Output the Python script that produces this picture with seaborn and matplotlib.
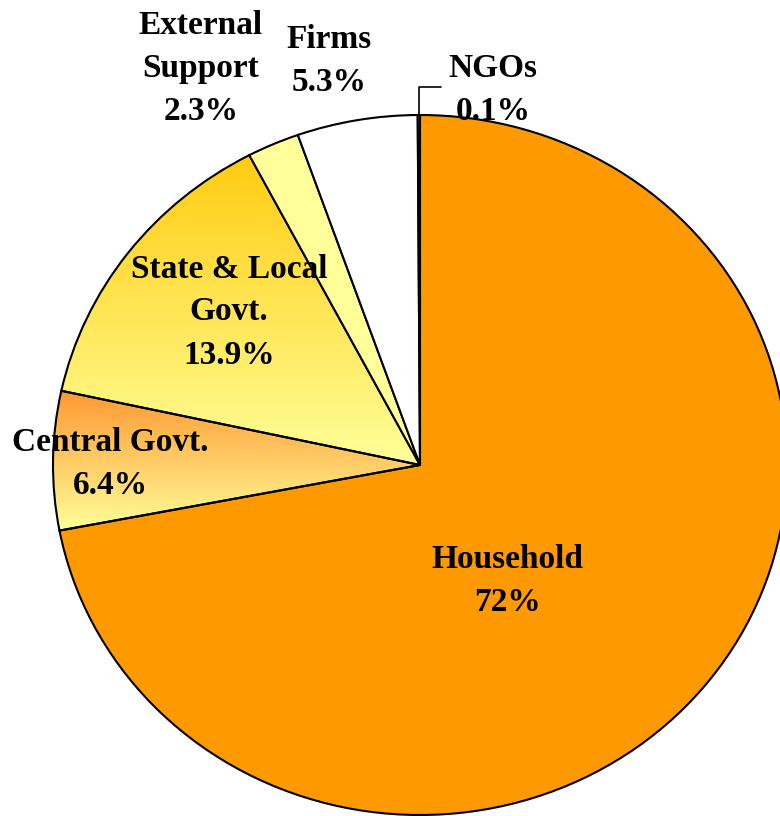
import numpy as np
import matplotlib
matplotlib.use("Agg")
import matplotlib.pyplot as plt
from matplotlib.colors import to_rgb
import seaborn as sns

# Health expenditure shares by source of funding (%)
sources = ["Household", "Central Govt.", "State & Local\nGovt.",
           "External\nSupport", "Firms", "NGOs"]
shares = [72, 6.4, 13.9, 2.3, 5.3, 0.1]
share_text = ["72%", "6.4%", "13.9%", "2.3%", "5.3%", "0.1%"]

sns.set_theme(style="white")
plt.rcParams["font.family"] = ["Liberation Serif", "DejaVu Serif"]

solid = sns.color_palette(["#FF9900", "#FF9933", "#FFCC00",
                           "#FFFF99", "#FFFFFF", "#FF9900"])
# vertical gradients (top colour, bottom colour) for the government wedges
gradients = {1: ("#FF9933", "#FFFF99"), 2: ("#FFCC11", "#FFFF99")}

W, H = 780, 816
fig = plt.figure(figsize=(W / 100, H / 100), dpi=100)
ax = fig.add_axes([0, 0, 1, 1])

# pixel geometry of the (slightly elliptical) pie
cx, cy, rx, ry = 420, 465, 367, 350

wedges, _ = ax.pie(shares, colors=solid, startangle=90, counterclock=False,
                   radius=1, center=(0, 0),
                   wedgeprops=dict(edgecolor="black", linewidth=1.5))

for i, (c_top, c_bot) in gradients.items():
    w = wedges[i]
    w.set_facecolor("none")
    ext = w.get_path().get_extents()
    t = np.linspace(0, 1, 256)[:, None]
    top, bot = np.array(to_rgb(c_top)), np.array(to_rgb(c_bot))
    grad = (top * (1 - t) + bot * t)[:, None, :]
    im = ax.imshow(grad, extent=[ext.x0, ext.x1, ext.y0, ext.y1],
                   origin="upper", aspect="auto", zorder=0,
                   interpolation="bilinear")
    im.set_clip_path(w)

# leader line for the tiny NGO slice
ngo = wedges[5]
mid = np.deg2rad((ngo.theta1 + ngo.theta2) / 2)
px, py = np.cos(mid), np.sin(mid)
ax.plot([px, px, px + 0.06], [py, 1.08, 1.08], color="black", lw=1.2,
        zorder=3, clip_on=False)

ax.set_aspect("auto")
ax.set_xlim(-cx / rx, (W - cx) / rx)
ax.set_ylim(-(H - cy) / ry, cy / ry)
ax.axis("off")

# label centres in figure pixels
label_pos = [(507, 581), (110, 464), (229, 312), (201, 68), (329, 61), (493, 90)]
for name, pct, (lx, ly) in zip(sources, share_text, label_pos):
    fig.text(lx / W, 1 - ly / H, f"{name}\n{pct}", ha="center", va="center",
             fontsize=24, fontweight="bold", linespacing=1.5, color="black",
             zorder=5)

fig.savefig("out.png", dpi=100)
